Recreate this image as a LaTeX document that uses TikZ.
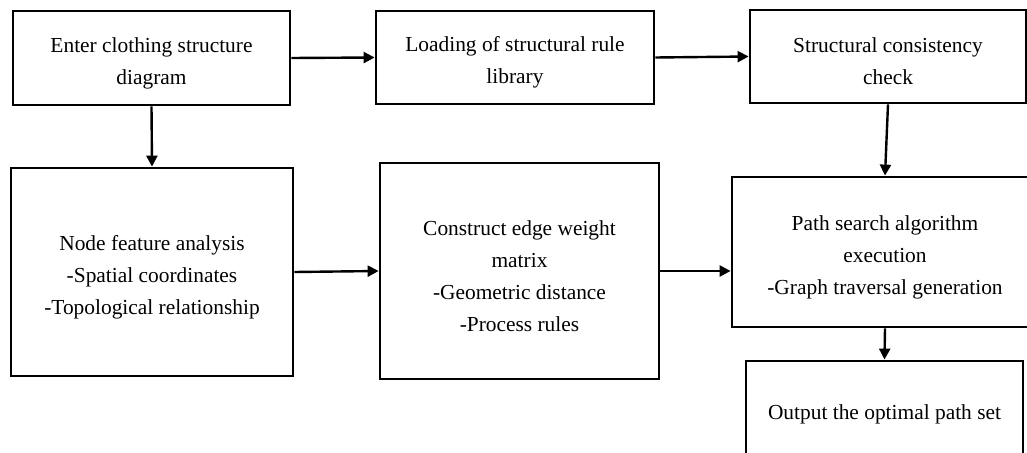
\documentclass[tikz,border=0pt]{standalone}
\usepackage{fontspec}
\setmainfont{Liberation Serif}
\usetikzlibrary{arrows.meta,positioning}
\newcommand{\lowr}{\rule{0pt}{25pt}}
\begin{document}
\begin{tikzpicture}[x=1pt,y=-1pt,
  box/.style={draw=black,line width=2.8pt,fill=white,inner sep=0pt,align=center,
    font=\fontsize{21.4}{32}\selectfont},
  conn/.style={line width=2.4pt,-{Triangle[length=11pt,width=11pt]}}]
\clip (0,0) rectangle (1027,452);
\useasboundingbox (0,0) rectangle (1027,452);
\node[box,minimum width=277pt,minimum height=94pt] (b1) at (151.5,58) {\lowr Enter clothing structure\\diagram};
\node[box,minimum width=278pt,minimum height=93pt] (b2) at (515,57.5) {\lowr Loading of structural rule\\library};
\node[box,minimum width=276pt,minimum height=93pt] (b3) at (888,56.5) {\lowr Structural consistency\\check};
\node[box,minimum width=282pt,minimum height=208pt] (b5) at (152,272) {\lowr Node feature analysis\\-Spatial coordinates\\-Topological relationship};
\node[box,minimum width=279pt,minimum height=216pt] (b6) at (519.5,271) {\lowr Construct edge weight\\matrix\\-Geometric distance\\-Process rules};
\node[box,minimum width=306pt,minimum height=150pt] (b4) at (885,252) {\lowr Path search algorithm\\execution\\-Graph traversal generation};
\node[box,minimum width=277pt,minimum height=102pt] (b7) at (884.5,412) {\rule{0pt}{19pt}Output the optimal path set};
\draw[conn] (b1.east) -- (b2.west);
\draw[conn] (b2.east) -- (b3.west);
\draw[conn] (b1.south) -- (b5.north);
\draw[conn] (b3.south) -- (b4.north);
\draw[conn] (b5.east) -- (b6.west);
\draw[conn] (b6.east) -- (b6.east -| b4.west);
\draw[conn] (b4.south) -- (b7.north);
\end{tikzpicture}
\end{document}
